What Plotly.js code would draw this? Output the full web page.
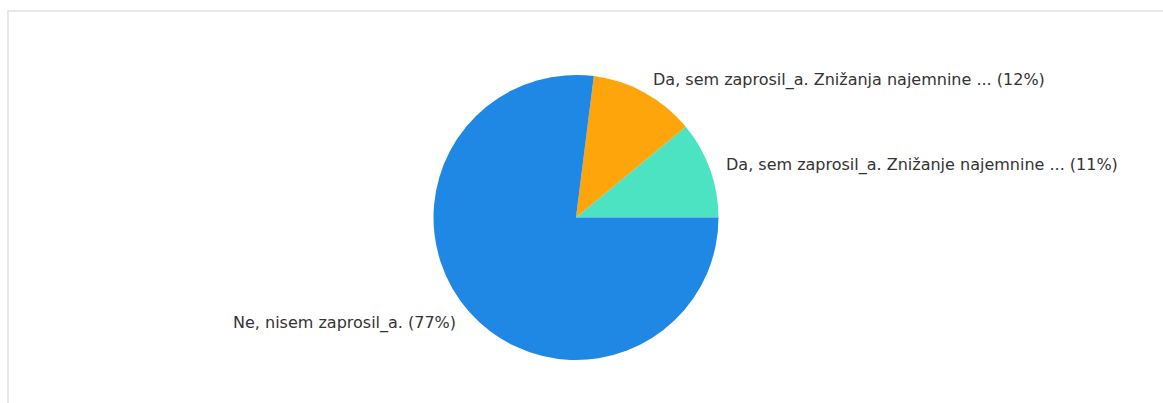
<!DOCTYPE html>
<html>
<head>
<meta charset="utf-8">
<script src="https://cdn.plot.ly/plotly-3.0.1.min.js"></script>
<style>
  html, body { margin: 0; padding: 0; background: #fff; }
  #frame {
    position: absolute; left: 7px; top: 10px; right: 0; bottom: 0;
    border-top: 2px solid #e8e8e8; border-left: 2px solid #e8e8e8;
  }
  #chart { position: absolute; left: 0; top: 0; width: 1163px; height: 403px; }
</style>
</head>
<body>
<div id="frame"></div>
<div id="chart"></div>
<script>
// Answers, in drawing order (counter-clockwise from 3 o'clock)
const answers = [
  'Da, sem zaprosil_a. Znižanje najemnine ...',
  'Da, sem zaprosil_a. Znižanja najemnine ...',
  'Ne, nisem zaprosil_a.'
];
const shares = [11, 12, 77];
const sliceColors = ['#4ce3c2', '#fea50c', '#1f88e5'];

const W = 1163, H = 403;
// pie placement in pixels
const cx = 576, cy = 217.5, radius = 142.5, labelDist = 158;

// Plotly lays counter-clockwise slices so the first one ends at `rotation`;
// shift it back by the first slice so that slice starts at 3 o'clock.
const total = shares.reduce((a, b) => a + b, 0);
const startRotation = 90 - 360 * shares[0] / total;

const trace = {
  type: 'pie',
  labels: answers,
  values: shares,
  sort: false,
  direction: 'counterclockwise',
  rotation: startRotation,
  marker: { colors: sliceColors, line: { width: 0 } },
  textinfo: 'none',
  hoverinfo: 'label+percent',
  domain: {
    x: [(cx - radius) / W, (cx + radius) / W],
    y: [1 - (cy + radius) / H, 1 - (cy - radius) / H]
  }
};

// outside labels, one per slice, set just beyond the rim at each slice's middle
const labelFont = { family: 'DejaVu Sans, Verdana, sans-serif', size: 16, color: '#333333' };
let acc = 0;
const annotations = shares.map((v, i) => {
  const midDeg = 360 * (acc + v / 2) / total;   // counter-clockwise from 3 o'clock
  acc += v;
  const a = midDeg * Math.PI / 180;
  const px = cx + labelDist * Math.cos(a);
  const py = cy - labelDist * Math.sin(a);
  return {
    xref: 'paper', yref: 'paper',
    x: px / W, y: 1 - py / H,
    xanchor: Math.cos(a) >= 0 ? 'left' : 'right',
    yanchor: 'middle',
    yshift: -1,
    borderpad: 0,
    showarrow: false,
    text: answers[i] + ' (' + Math.round(100 * v / total) + '%)',
    font: labelFont
  };
});

const layout = {
  width: W,
  height: H,
  margin: { l: 0, r: 0, t: 0, b: 0 },
  showlegend: false,
  annotations: annotations,
  paper_bgcolor: 'rgba(0,0,0,0)',
  plot_bgcolor: 'rgba(0,0,0,0)'
};

Plotly.newPlot('chart', [trace], layout, { displayModeBar: false, staticPlot: true });
</script>
</body>
</html>
